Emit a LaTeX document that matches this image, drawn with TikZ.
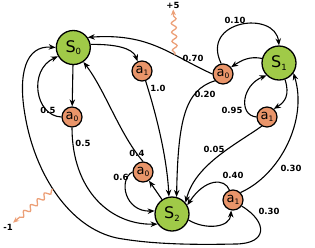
\documentclass[tikz,border=0pt]{standalone}
\usepackage{fontspec}
\setmainfont{DejaVu Sans}
\usetikzlibrary{arrows.meta,decorations.pathmorphing}
\definecolor{sgreen}{RGB}{160,202,72}
\definecolor{aorange}{RGB}{233,149,106}
\definecolor{squigc}{RGB}{236,160,120}
\newcommand{\Slab}[1]{\fontsize{16}{16}\selectfont S\raisebox{-2.5pt}{\fontsize{8.5}{8.5}\selectfont #1}}
\newcommand{\Alab}[1]{\fontsize{13}{13}\selectfont a\raisebox{-2pt}{\fontsize{7.5}{7.5}\selectfont #1}}
\tikzset{
 snode/.style={circle, draw, line width=1.3pt, fill=sgreen, minimum size=34pt, inner sep=0pt},
 anode/.style={circle, draw, line width=1.2pt, fill=aorange, minimum size=20pt, inner sep=0pt},
 arr/.style={line width=1.1pt, -{Stealth[length=7pt,width=5.5pt]}},
 lbl/.style={font=\fontsize{8.5}{8.5}\selectfont\bfseries, inner sep=0pt},
 rlbl/.style={font=\fontsize{8.5}{8.5}\selectfont\bfseries, inner sep=1pt},
 squig/.style={draw=squigc, line width=1.3pt, decorate, decoration={snake, amplitude=2.5pt, segment length=9pt, pre length=2pt, post length=6pt}, -{Stealth[length=6pt,width=5pt]}}
}
\begin{document}
\begin{tikzpicture}[x=1pt,y=-1pt]
\useasboundingbox (0,0) rectangle (315,247);
% states
\node[snode] (S0) at (73.3,47.5) {\Slab{0}};
\node[snode] (S1) at (279,63) {\Slab{1}};
\node[snode] (S2) at (172,214) {\Slab{2}};
% actions
\node[anode] (a0s0) at (72,117) {\Alab{0}};
\node[anode] (a1s0) at (142,71) {\Alab{1}};
\node[anode] (a0s1) at (223,74) {\Alab{0}};
\node[anode] (a1s1) at (267,117) {\Alab{1}};
\node[anode] (a0s2) at (143,172) {\Alab{0}};
\node[anode] (a1s2) at (233,200) {\Alab{1}};
% S0
\draw[arr] (S0) -- (a0s0);
\draw[arr] (a0s0.west) .. controls (35,116) and (28,70) .. (S0.210);
\draw[arr] (a0s0.south) .. controls (72,190) and (110,225) .. (S2.215);
\draw[arr] (S0.10) .. controls (115,44) and (133,48) .. (a1s0.115);
\draw[arr] (a1s0.-70) .. controls (158,120) and (167,160) .. (S2.100);
% S1
\draw[arr] (S1.165) .. controls (250,56) and (242,60) .. (a0s1.40);
\draw[arr] (a0s1.100) .. controls (200,20) and (275,10) .. (S1.north);
\draw[arr] (a0s1.west) .. controls (170,55) and (150,33) .. (S0.35);
\draw[arr] (a0s1.220) .. controls (185,90) and (178,120) .. (S2.75);
\draw[arr] (S1.-70) .. controls (290,95) and (285,102) .. (a1s1.50);
\draw[arr] (a1s1.west) .. controls (238,115) and (242,85) .. (S1.225);
\draw[arr] (a1s1.240) .. controls (235,145) and (195,165) .. (S2.40);
% S2
\draw[arr] (S2) -- (a0s2);
\draw[arr] (a0s2.west) .. controls (118,180) and (125,212) .. (S2.170);
\draw[arr] (a0s2.north) .. controls (120,135) and (105,90) .. (S0.-55);
\draw[arr] (S2.-20) .. controls (205,230) and (230,228) .. (a1s2.-100);
\draw[arr] (a1s2.110) .. controls (225,178) and (205,178) .. (S2.30);
\draw[arr] (a1s2.45) .. controls (280,175) and (308,120) .. (S1.-35);
\draw[arr] (a1s2.-35) .. controls (268,222) and (268,244) .. (235,244)
  .. controls (190,245) and (150,244) .. (117,238)
  .. controls (70,228) and (35,175) .. (25,115)
  .. controls (18,75) and (25,45) .. (S0.west);
% probabilities
\node[lbl] (p1) at (48,110) {0.5};
\node[lbl] (p2) at (83,143) {0.5};
\node[lbl] (p3) at (158,88) {1.0};
\node[lbl] (p4) at (235,20) {0.10};
\node[lbl] (p5) at (193,58) {0.70};
\node[lbl] (p6) at (205,94) {0.20};
\node[lbl] (p7) at (232,110) {0.95};
\node[lbl] (p8) at (214,149) {0.05};
\node[lbl] (p9) at (137,153) {0.4};
\node[lbl] (p10) at (121,177) {0.6};
\node[lbl] (p11) at (233,175) {0.40};
\node[lbl] (p12) at (291,168) {0.30};
\node[lbl] (p13) at (269,211) {0.30};
% rewards
\coordinate (r5) at (175,55);
\node[rlbl] (plus5) at (173,5) {+5};
\draw[squig] (r5) -- (plus5);
\coordinate (rm1) at (53,189);
\node[rlbl] (minus1) at (8,227) {-1};
\draw[squig] (rm1) -- (minus1);
\end{tikzpicture}
\end{document}
